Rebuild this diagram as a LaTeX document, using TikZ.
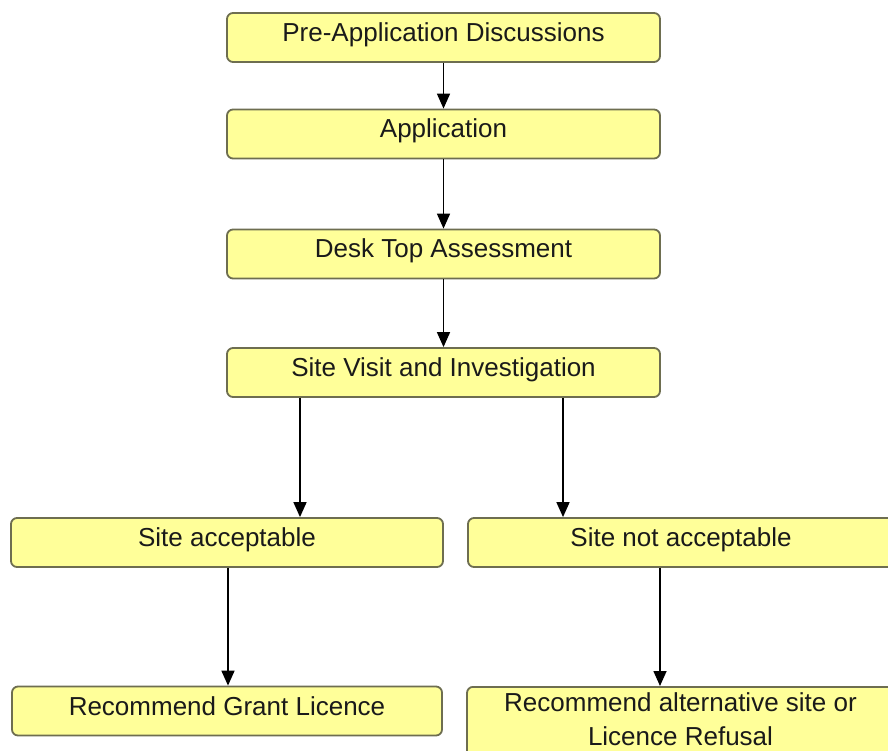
\documentclass[tikz,border=0pt]{standalone}
\usepackage{fontspec}
\setmainfont{Liberation Sans}
\usetikzlibrary{arrows.meta}
\definecolor{boxfill}{HTML}{FFFF99}
\definecolor{boxline}{HTML}{6E6E50}
\definecolor{txt}{HTML}{1A1A1A}
\tikzset{
  boxbase/.style={draw=boxline, line width=1.8pt, fill=boxfill, rounded corners=6pt,
    inner sep=0pt, text=txt, font=\fontsize{26}{34}\selectfont},
  stepbox/.style={boxbase, minimum height=49pt, text height=19pt, text depth=11pt},
  arr/.style={draw=black, line width=1.6pt, -{Triangle[width=13pt,length=15pt]}}
}
\begin{document}
\begin{tikzpicture}[x=1pt,y=-1pt]
\useasboundingbox (0,0) rectangle (888,751);
\clip (0,0) rectangle (888,751);
\fill[white] (0,0) rectangle (888,751);
\node[stepbox, minimum width=433pt] (b1) at (443.5,37.5) {Pre-Application Discussions};
\node[stepbox, minimum width=433pt] (b2) at (443.5,134) {Application};
\node[stepbox, minimum width=433pt] (b3) at (443.5,254) {Desk Top Assessment};
\node[stepbox, minimum width=433pt] (b4) at (443.5,372.5) {Site Visit and Investigation};
\node[stepbox, minimum width=432pt] (b5) at (227,542.5) {Site acceptable};
\node[stepbox, minimum width=426pt] (b6) at (681,542.5) {Site not acceptable};
\node[stepbox, minimum width=430pt] (b7) at (227,711) {Recommend Grant Licence};
\node[boxbase, minimum width=427pt, anchor=north, align=center, inner ysep=6pt,
  text depth=30pt] (b8) at (680.5,686) {Recommend alternative site or\\Licence Refusal};
\draw[arr] (b1.south) -- (b2.north);
\draw[arr] (b2.south) -- (b3.north);
\draw[arr] (b3.south) -- (b4.north);
\draw[arr] ([xshift=-143.5pt]b4.south) -- ([xshift=73pt]b5.north);
\draw[arr] ([xshift=119.5pt]b4.south) -- ([xshift=-118pt]b6.north);
\draw[arr] ([xshift=1pt]b5.south) -- ([xshift=1pt]b7.north);
\draw[arr] ([xshift=-21pt]b6.south) -- ([xshift=-20.5pt]b8.north);
\end{tikzpicture}
\end{document}
